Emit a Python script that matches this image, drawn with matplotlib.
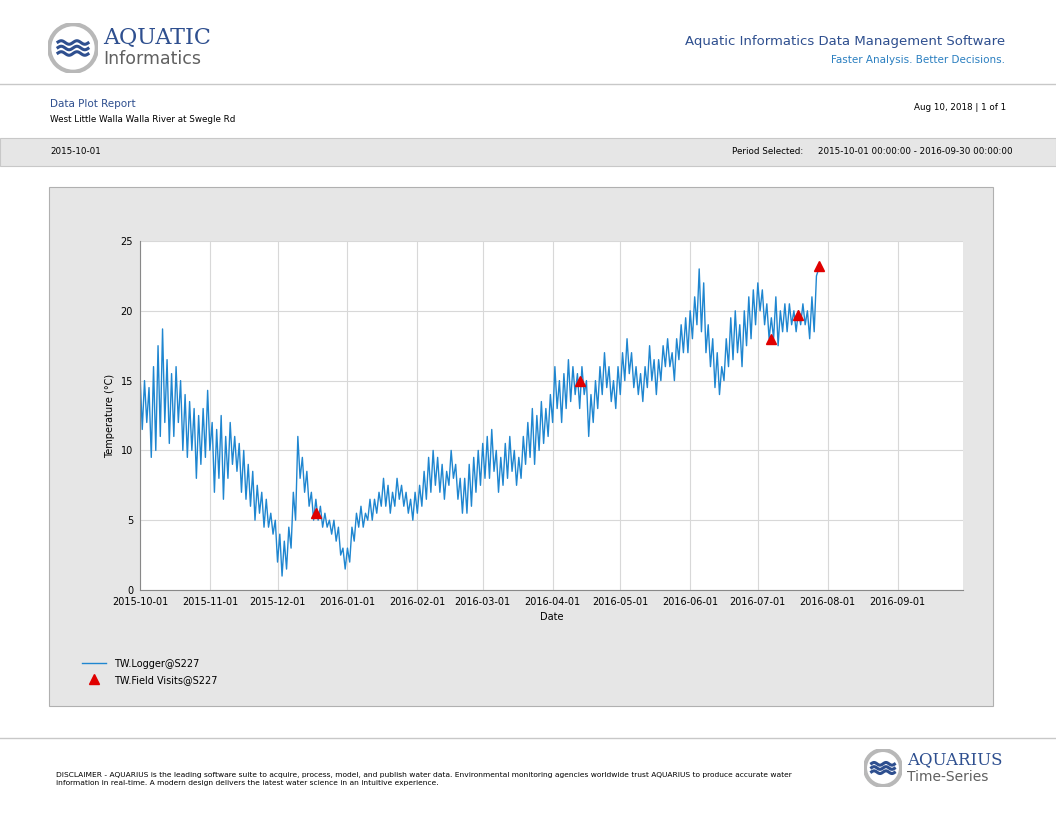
import matplotlib
matplotlib.use("Agg")
import matplotlib.pyplot as plt
import matplotlib.dates as mdates
import matplotlib.patches as mp
import numpy as np
import pandas as pd

start = "2015-10-01"
temps = [
15.5,11.5,15,12,14.5,9.5,16, 10,17.5,11,18.7,12,16.5,10.5, 15.5,11,16,12,15,10,14,
9.5,13.5,10,13,8,12.5,9, 13,9.5,14.3,10,12,7,11.5, 8,12.5,6.5,11,8,12,9,
11,8.5,10.5,7,10,6.5,9, 6,8.5,5,7.5,5.5,7,4.5, 6.5,4.5,5.5,4,5,2,4,
1,3.5,1.5,4.5,3,7,5, 11,8,9.5,7,8.5,6,7, 5,6.5,5,6,4.5,5.5,4.5,
5,4,5,3.5,4.5,2.5,3, 1.5,3,2,4.5,3.5,5.5,4.5, 6,4.5,5.5,5,6.5,5,6.5,
5.5,7,6,8,6,7.5,5.5, 7,6,8,6.5,7.5,6,7, 5.5,6.5,5,7,5.5,7.5,6,
8.5,6.5,9.5,7,10,7.5,9.5, 7,9,6.5,8.5,7.5,10,8, 9,6.5,8,5.5,8,5.5,9,
6,9.5,7,10,7.5,10.5,8, 11,8,11.5,8.5,10,7,9.5, 7.5,10.5,8,11,8.5,10,7.5,
9.5,8,11,9,12,9.5,13, 9,12.5,10,13.5,10.5,13,11, 14,12,16,13,15,12,15.5,
13,16.5,13.5,16,14,15.5,13, 16,14,15,11,14,12,15, 13,16,14,17,14.5,16,13.5,
15,13,16,14,17,15,18, 15.5,17,14.5,16,14,15.5,13.5, 16,14.5,17.5,15,16.5,14,16.5,
15,17.5,16,18,16,17,15, 18,16.5,19,17,19.5,17,20, 18,21,19,23,18.5,22,17,
19,16,18,14.5,17,14,16, 15,18,16,19.5,16.5,20,17, 19,16,20,17.5,21,18,21.5,
19,22,20,21.5,19,20.5,18, 19.5,18,21,17.5,20,18.5,20.5, 18.5,20.5,19,20,18.5,20,19,
20.5,19,20,18,21,18.5,22.5, 23]
visit_dates = ["2015-12-18", "2016-04-13", "2016-07-07", "2016-07-19", "2016-07-28"]
visit_vals = [5.5, 15.0, 18.0, 19.7, 23.2]
xticks = ["2015-10-01","2015-11-01","2015-12-01","2016-01-01","2016-02-01","2016-03-01",
          "2016-04-01","2016-05-01","2016-06-01","2016-07-01","2016-08-01","2016-09-01"]

W, H = 1056, 816
fig = plt.figure(figsize=(W/100, H/100), dpi=100)
def fx(x): return x / W
def fy(y): return 1 - y / H
def txt(x, y, s, **kw):
    fig.text(fx(x), fy(y), s, **kw)

def logo(cx, cy, r):
    ax = fig.add_axes([fx(cx - r), fy(cy + r), fx(2*r), 2*r/H])
    ax.set_xlim(-1, 1); ax.set_ylim(-1, 1); ax.axis("off")
    ax.add_patch(mp.Circle((0, 0), 0.95, fc="white", ec="#b8b8b8", lw=3))
    t = np.linspace(-0.6, 0.6, 50)
    for off in (0.22, 0.0, -0.22):
        ax.plot(t, off + 0.07*np.sin(t*10), color="#2e4f8f", lw=2.2)
logo(73, 48, 25)
txt(103, 38, "AQUATIC", fontsize=16, color="#2e4f8f", family="DejaVu Serif", va="center")
txt(103, 59, "Informatics", fontsize=12.5, color="#606060", va="center")
txt(1005, 41, "Aquatic Informatics Data Management Software", fontsize=9.5, color="#2e4f8f", ha="right", va="center")
txt(1005, 60, "Faster Analysis. Better Decisions.", fontsize=7.5, color="#2a7fc0", ha="right", va="center")
fig.add_artist(plt.Line2D([0, 1], [fy(84), fy(84)], color="#c8c8c8", lw=1))
txt(50, 104, "Data Plot Report", fontsize=7.5, color="#2e4f8f", va="center")
txt(50, 119, "West Little Walla Walla River at Swegle Rd", fontsize=6.3, va="center")
txt(1006, 107, "Aug 10, 2018 | 1 of 1", fontsize=6.3, ha="right", va="center")
fig.add_artist(mp.Rectangle((0, fy(166)), 1, 28/H, fc="#e6e6e6", ec="#c8c8c8", lw=0.8, zorder=-5))
txt(50, 152, "2015-10-01", fontsize=6.3, va="center")
txt(803, 152, "Period Selected:", fontsize=6.3, ha="right", va="center")
txt(818, 152, "2015-10-01 00:00:00 - 2016-09-30 00:00:00", fontsize=6.3, va="center")

fig.add_artist(mp.Rectangle((fx(49), fy(706)), fx(944), (706-187)/H, fc="#e6e6e6", ec="#b0b0b0", lw=0.8, zorder=-5))

ax = fig.add_axes([fx(140), fy(590), fx(963-140), (590-241)/H])
ax.set_zorder(2)
ax.set_facecolor("white")
dates = pd.date_range(start, periods=len(temps), freq="D")
ax.plot(dates, temps, color="#1f86d0", lw=1, label="TW.Logger@S227")
ax.plot(pd.to_datetime(visit_dates), visit_vals, "^", color="#e00000", ms=7, ls="none", label="TW.Field Visits@S227")
ax.set_xlim(pd.Timestamp("2015-10-01"), pd.Timestamp("2016-09-30"))
ax.set_ylim(0, 25)
ax.set_yticks([0, 5, 10, 15, 20, 25])
ax.set_xticks(pd.to_datetime(xticks))
ax.xaxis.set_major_formatter(mdates.DateFormatter("%Y-%m-%d"))
ax.grid(True, color="#d8d8d8", lw=0.8)
ax.set_axisbelow(True)
for s in ["top", "right"]:
    ax.spines[s].set_visible(False)
ax.spines["left"].set_color("#888888"); ax.spines["bottom"].set_color("#888888")
ax.tick_params(labelsize=7, length=0, pad=5)
ax.set_xlabel("Date", fontsize=7)
ax.set_ylabel("Temperature (°C)", fontsize=7)
leg = fig.legend(loc="upper left", bbox_to_anchor=(fx(78), fy(655)), fontsize=7, frameon=False,
           handlelength=2.5, labelspacing=0.6, borderaxespad=0)
leg.set_zorder(3)

fig.add_artist(plt.Line2D([0, 1], [fy(738), fy(738)], color="#c8c8c8", lw=1))
txt(56, 779, "DISCLAIMER - AQUARIUS is the leading software suite to acquire, process, model, and publish water data. Environmental monitoring agencies worldwide trust AQUARIUS to produce accurate water\ninformation in real-time. A modern design delivers the latest water science in an intuitive experience.",
    fontsize=5.4, va="center", linespacing=1.6)
logo(883, 768, 19)
txt(907, 760, "AQUARIUS", fontsize=12, color="#2e4f8f", family="DejaVu Serif", va="center")
txt(907, 777, "Time-Series", fontsize=10, color="#606060", va="center")

fig.savefig("out.png", dpi=100)
